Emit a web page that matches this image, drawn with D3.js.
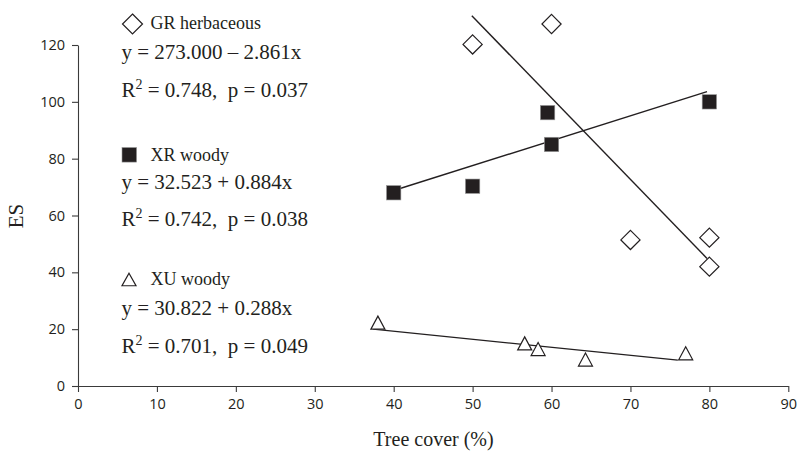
<!DOCTYPE html>
<html>
<head>
<meta charset="utf-8">
<script src="https://cdn.jsdelivr.net/npm/d3@7"></script>
<style>
  body { margin: 0; background: #fff; }
  .tick text { font-family: "Open Sans", sans-serif; font-size: 14.5px; fill: #231f20; }
  .serif { font-family: "Liberation Serif", "Times New Roman", serif; fill: #231f20; }
</style>
</head>
<body>
<div id="chart"></div>
<script>
// tick values
var xTicks = [0, 10, 20, 30, 40, 50, 60, 70, 80, 90];
var yTicks = [0, 20, 40, 60, 80, 100, 120];

// GR herbaceous (diamonds)
var grX = [50, 60, 70, 80, 80];
var grY = [120.2, 127.4, 51.4, 52.2, 42.0];
// XR woody (squares)
var xrX = [40, 50, 59.5, 60, 80];
var xrY = [68.0, 70.3, 96.2, 85.0, 100.0];
// XU woody (triangles)
var xuX = [38, 56.6, 58.3, 64.3, 77];
var xuY = [22.3, 15.0, 13.0, 9.3, 11.5];

// fitted lines as drawn: [x start, y start, x end, y end]
var grLine = [49.9, 130.3, 79.7, 44.9];
var xrLine = [40, 68.8, 79.7, 103.6];
var xuLine = [37.4, 20.0, 76.0, 9.1];

// legend text
var seriesNames = ["GR herbaceous", "XR woody", "XU woody"];
var equations = ["y = 273.000 \u2013 2.861x", "y = 32.523 + 0.884x", "y = 30.822 + 0.288x"];
var rSquared = ["0.748", "0.742", "0.701"];
var pValues = ["0.037", "0.038", "0.049"];

var width = 798, height = 452;
var ink = "#231f20";

var svg = d3.select("#chart").append("svg")
    .attr("width", width)
    .attr("height", height);

var x = d3.scaleLinear().domain([0, 90]).range([78, 788.3]);
var y = d3.scaleLinear().domain([0, 120]).range([386, 45]);

/* axes */
var xAxis = svg.append("g")
    .attr("transform", "translate(0,386)")
    .call(d3.axisBottom(x).tickValues(xTicks).tickSize(6).tickSizeOuter(0).tickPadding(6.5));

var yAxis = svg.append("g")
    .attr("transform", "translate(78,0)")
    .call(d3.axisLeft(y).tickValues(yTicks).tickSize(6).tickSizeOuter(0).tickPadding(7));

svg.selectAll(".domain, .tick line").attr("stroke", "#3a3a3a").attr("stroke-width", 1.1);

svg.append("text")
    .attr("class", "serif")
    .attr("x", 433.5)
    .attr("y", 446)
    .attr("text-anchor", "middle")
    .attr("font-size", 20)
    .text("Tree cover (%)");

svg.append("text")
    .attr("class", "serif")
    .attr("transform", "translate(23,216) rotate(-90)")
    .attr("text-anchor", "middle")
    .attr("font-size", 21)
    .text("ES");

/* marker paths, centred on 0,0 */
function diamond(r) { return "M0," + (-r) + "L" + r + ",0L0," + r + "L" + (-r) + ",0Z"; }
function triangle(w, h) { return "M0," + (-h / 2) + "L" + (w / 2) + "," + (h / 2) + "L" + (-w / 2) + "," + (h / 2) + "Z"; }

/* trend lines */
var trends = [grLine, xrLine, xuLine];
svg.selectAll("line.trend")
    .data(trends)
    .enter().append("line")
    .attr("class", "trend")
    .attr("x1", function (d) { return x(d[0]); })
    .attr("y1", function (d) { return y(d[1]); })
    .attr("x2", function (d) { return x(d[2]); })
    .attr("y2", function (d) { return y(d[3]); })
    .attr("stroke", ink)
    .attr("stroke-width", 1.4);

/* points */
svg.selectAll("path.gr")
    .data(d3.zip(grX, grY))
    .enter().append("path")
    .attr("class", "gr")
    .attr("d", diamond(9.6))
    .attr("transform", function (d) { return "translate(" + x(d[0]) + "," + y(d[1]) + ")"; })
    .attr("fill", "#fff")
    .attr("stroke", ink)
    .attr("stroke-width", 1.2);

svg.selectAll("rect.xr")
    .data(d3.zip(xrX, xrY))
    .enter().append("rect")
    .attr("class", "xr")
    .attr("x", function (d) { return x(d[0]) - 7.2; })
    .attr("y", function (d) { return y(d[1]) - 7.2; })
    .attr("width", 14.4)
    .attr("height", 14.4)
    .attr("fill", ink)
    .attr("stroke", "#9a9a9a")
    .attr("stroke-width", 0.6);

svg.selectAll("path.xu")
    .data(d3.zip(xuX, xuY))
    .enter().append("path")
    .attr("class", "xu")
    .attr("d", triangle(14, 13))
    .attr("transform", function (d) { return "translate(" + x(d[0]) + "," + y(d[1]) + ")"; })
    .attr("fill", "#fff")
    .attr("stroke", ink)
    .attr("stroke-width", 1.2);

/* legend blocks */
var legendTop = [28.5, 161, 285];
var eqTop = [59, 189, 315];
var statTop = [97, 226, 353];

svg.append("path").attr("d", diamond(10)).attr("transform", "translate(132.5,24)")
    .attr("fill", "#fff").attr("stroke", ink).attr("stroke-width", 1.2);
svg.append("rect").attr("x", 122).attr("y", 147.5).attr("width", 14.6).attr("height", 14.6)
    .attr("fill", ink).attr("stroke", "#9a9a9a").attr("stroke-width", 0.6);
svg.append("path").attr("d", triangle(14, 12.5)).attr("transform", "translate(129,279.5)")
    .attr("fill", "#fff").attr("stroke", ink).attr("stroke-width", 1.2);

seriesNames.forEach(function (name, i) {
    svg.append("text")
        .attr("class", "serif")
        .attr("x", 150.5)
        .attr("y", legendTop[i])
        .attr("font-size", 18)
        .text(name);

    svg.append("text")
        .attr("class", "serif")
        .attr("x", 121.5)
        .attr("y", eqTop[i])
        .attr("font-size", 21)
        .attr("xml:space", "preserve")
        .text(equations[i]);

    var st = svg.append("text")
        .attr("class", "serif")
        .attr("x", 121.5)
        .attr("y", statTop[i])
        .attr("font-size", 21)
        .attr("xml:space", "preserve");
    st.append("tspan").text("R");
    st.append("tspan").attr("dy", -8).attr("font-size", 14).text("2");
    st.append("tspan").attr("dy", 8).text(" = " + rSquared[i] + ",  p = " + pValues[i]);
});
</script>
</body>
</html>
